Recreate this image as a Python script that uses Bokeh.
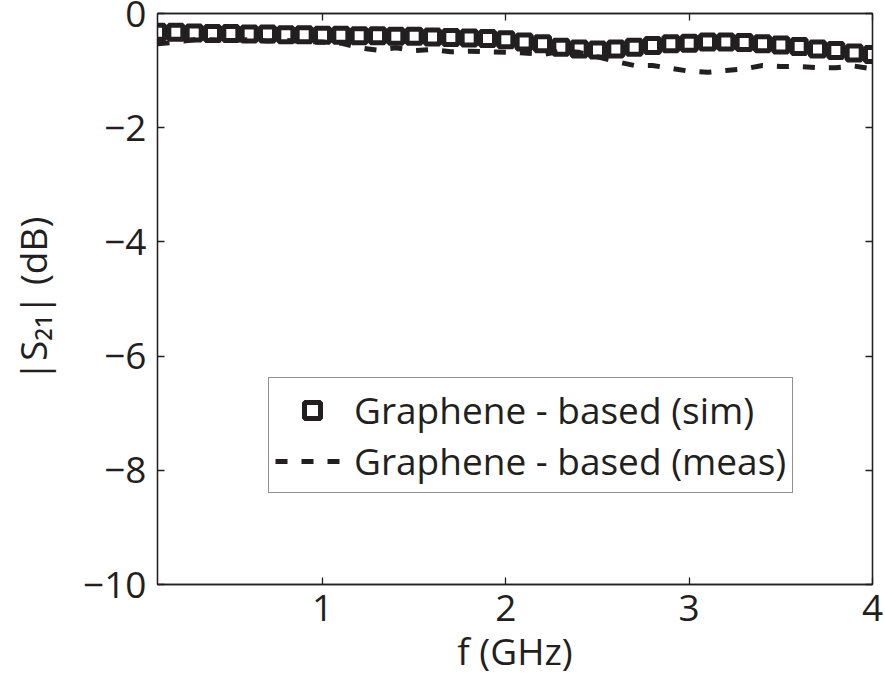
from bokeh.plotting import figure
from bokeh.models import LinearAxis, FixedTicker, Range1d, Legend, LegendItem, CustomLabelingPolicy
from bokeh.embed import file_html
from bokeh.resources import INLINE

# ---- data ----
freq_ghz = [0.1, 0.2, 0.3, 0.4, 0.5, 0.6, 0.7, 0.8, 0.9, 1.0,
            1.1, 1.2, 1.3, 1.4, 1.5, 1.6, 1.7, 1.8, 1.9, 2.0,
            2.1, 2.2, 2.3, 2.4, 2.5, 2.6, 2.7, 2.8, 2.9, 3.0,
            3.1, 3.2, 3.3, 3.4, 3.5, 3.6, 3.7, 3.8, 3.9, 4.0]
s21_sim = [-0.33, -0.33, -0.34, -0.35, -0.35, -0.36, -0.36, -0.37, -0.37, -0.38,
           -0.38, -0.39, -0.39, -0.40, -0.40, -0.41, -0.42, -0.43, -0.44, -0.46,
           -0.50, -0.53, -0.59, -0.62, -0.64, -0.62, -0.59, -0.56, -0.53, -0.52,
           -0.50, -0.50, -0.51, -0.53, -0.55, -0.58, -0.62, -0.65, -0.69, -0.72]
s21_meas = [-0.53, -0.50, -0.46, -0.46, -0.47, -0.46, -0.48, -0.47, -0.49, -0.50,
            -0.52, -0.60, -0.64, -0.60, -0.65, -0.63, -0.67, -0.66, -0.67, -0.68,
            -0.69, -0.72, -0.66, -0.68, -0.76, -0.84, -0.91, -0.91, -0.96, -1.01,
            -1.03, -1.00, -0.97, -0.91, -0.93, -0.93, -0.95, -0.95, -0.92, -0.97]
x_ticks = [1, 2, 3, 4]
y_ticks = [-10, -8, -6, -4, -2, 0]
y_tick_labels = {-10: "\u221210", -8: "\u22128", -6: "\u22126", -4: "\u22124", -2: "\u22122", 0: "0"}
label_sim = "Graphene - based (sim)"
label_meas = "Graphene - based (meas)"
x_title = "f (GHz)"
y_title = "|S\u2082\u2081| (dB)"

FONT = "Open Sans"
INK = "#231f20"
FS = "37px"

p = figure(width=885, height=679, output_backend="svg", toolbar_location=None,
           x_range=Range1d(0.1, 4.0), y_range=Range1d(-10, 0),
           min_border_left=157, min_border_right=13, min_border_top=13, min_border_bottom=95)
p.xgrid.visible = False
p.ygrid.visible = False
p.outline_line_color = INK
p.outline_line_width = 1.3
p.background_fill_color = "white"
p.border_fill_color = "white"

r_sim = p.scatter(freq_ghz, s21_sim, marker="square", size=14, line_width=5,
                  line_color=INK, fill_color=None)
r_meas = p.line(freq_ghz, s21_meas, line_width=5, line_color=INK, line_dash="12 14")

for ax in p.xaxis:
    ax.ticker = FixedTicker(ticks=x_ticks)
    ax.axis_label = x_title
for ax in p.yaxis:
    ax.ticker = FixedTicker(ticks=y_ticks)
    ax.major_label_overrides = y_tick_labels
    ax.axis_label = y_title

for ax in list(p.xaxis) + list(p.yaxis):
    ax.major_label_text_font = FONT
    ax.major_label_text_font_size = FS
    ax.major_label_text_color = INK
    ax.axis_label_text_font = FONT
    ax.axis_label_text_font_size = FS
    ax.axis_label_text_font_style = "normal"
    ax.axis_label_text_color = INK
    ax.axis_line_color = INK
    ax.axis_line_width = 1.3
    ax.major_tick_line_color = INK
    ax.major_tick_line_width = 1.3
    ax.major_tick_in = 7
    ax.major_tick_out = 0
    ax.minor_tick_line_color = None

p.xaxis.major_label_standoff = 10
p.xaxis.axis_label_standoff = 1
p.yaxis.major_label_standoff = 11
p.yaxis.axis_label_standoff = 22

no_labels = "return new Set()"
top = LinearAxis(ticker=FixedTicker(ticks=x_ticks), major_label_policy=CustomLabelingPolicy(code=no_labels),
                 major_tick_in=7, major_tick_out=0, minor_tick_line_color=None,
                 axis_line_color=INK, axis_line_width=1.3, major_tick_line_color=INK,
                 major_tick_line_width=1.3, major_label_standoff=0, major_label_text_font_size="1px")
right = LinearAxis(ticker=FixedTicker(ticks=y_ticks), major_label_policy=CustomLabelingPolicy(code=no_labels),
                   major_tick_in=7, major_tick_out=0, minor_tick_line_color=None,
                   axis_line_color=INK, axis_line_width=1.3, major_tick_line_color=INK,
                   major_tick_line_width=1.3, major_label_standoff=0, major_label_text_font_size="1px")
p.add_layout(top, "above")
p.add_layout(right, "right")

legend = Legend(items=[LegendItem(label=label_sim, renderers=[r_sim]),
                       LegendItem(label=label_meas, renderers=[r_meas])],
                location=(111, 91))
legend.label_text_font = FONT
legend.label_text_font_size = FS
legend.label_text_color = INK
legend.glyph_width = 74
legend.glyph_height = 40
legend.label_standoff = 5
legend.spacing = 0
legend.padding = 6
legend.margin = 0
legend.border_line_color = INK
legend.border_line_width = 1.5
legend.background_fill_color = "white"
legend.background_fill_alpha = 1.0
p.add_layout(legend, "center")

open("out.html", "w").write(file_html(p, INLINE))
